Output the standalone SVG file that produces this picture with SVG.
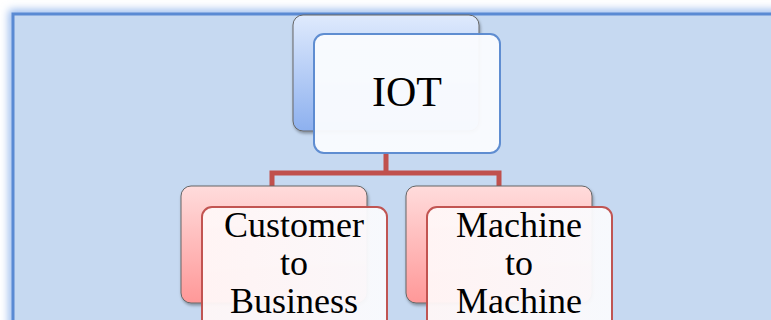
<svg xmlns="http://www.w3.org/2000/svg" width="771" height="320" viewBox="0 0 771 320">
  <defs>
    <linearGradient id="backBlue" x1="0" y1="0" x2="0" y2="1">
      <stop offset="0" stop-color="#dfeafd"/>
      <stop offset="1" stop-color="#8db0ef"/>
    </linearGradient>
    <linearGradient id="backRed" x1="0" y1="0" x2="0" y2="1">
      <stop offset="0" stop-color="#ffdcdc"/>
      <stop offset="1" stop-color="#ff9898"/>
    </linearGradient>
    <linearGradient id="frontBlue" x1="0" y1="0" x2="1" y2="0">
      <stop offset="0" stop-color="#fafcff"/>
      <stop offset="1" stop-color="#fbfcff"/>
    </linearGradient>
    <linearGradient id="frontRed" x1="0" y1="0" x2="1" y2="0">
      <stop offset="0" stop-color="#fff7f7"/>
      <stop offset="1" stop-color="#fafbfe"/>
    </linearGradient>
    <filter id="glow" x="-5%" y="-10%" width="110%" height="120%">
      <feGaussianBlur stdDeviation="4"/>
    </filter>
    <filter id="shadow" x="-10%" y="-10%" width="125%" height="125%">
      <feDropShadow dx="1" dy="2" stdDeviation="1.5" flood-color="#000" flood-opacity="0.35"/>
    </filter>
  </defs>
  <style>
    .back { stroke: #666; stroke-width: 1; filter: url(#shadow); }
    .front { stroke-width: 2; opacity: 0.96; }
    .label { font-family: "Liberation Serif", "Times New Roman", serif; fill: #000; text-anchor: middle; }
    .conn { fill: none; stroke: #c0504d; stroke-width: 5; }
  </style>

  <rect width="771" height="320" fill="#ffffff"/>
  <!-- outer frame with soft glow -->
  <rect x="13" y="14" width="800" height="340" fill="none" stroke="#8fb4ec" stroke-width="8" filter="url(#glow)"/>
  <rect x="13" y="14" width="800" height="340" fill="#c6d9f1" stroke="#5a8ad3" stroke-width="3"/>

  <g id="connectors">
    <path class="conn" d="M386 153 V173 M272 186 V173 H499 V186"/>
  </g>

  <g id="node-iot">
    <rect class="back" x="293" y="15" width="186" height="116" rx="10" fill="url(#backBlue)"/>
    <rect class="front" x="314" y="34" width="186" height="119" rx="10" fill="url(#frontBlue)" stroke="#5b8ad0"/>
    <text class="label" x="407" y="106" font-size="42">IOT</text>
  </g>

  <g id="node-c2b">
    <rect class="back" x="181" y="186" width="186" height="117" rx="10" fill="url(#backRed)"/>
    <rect class="front" x="202" y="207" width="185" height="125" rx="10" fill="url(#frontRed)" stroke="#c0504d"/>
    <text class="label" x="294" y="237" font-size="36">Customer</text>
    <text class="label" x="294" y="275" font-size="36">to</text>
    <text class="label" x="294" y="313" font-size="36">Business</text>
  </g>

  <g id="node-m2m">
    <rect class="back" x="406" y="186" width="186" height="117" rx="10" fill="url(#backRed)"/>
    <rect class="front" x="427" y="207" width="185" height="125" rx="10" fill="url(#frontRed)" stroke="#c0504d"/>
    <text class="label" x="519" y="237" font-size="36">Machine</text>
    <text class="label" x="519" y="275" font-size="36">to</text>
    <text class="label" x="519" y="313" font-size="36">Machine</text>
  </g>
</svg>
